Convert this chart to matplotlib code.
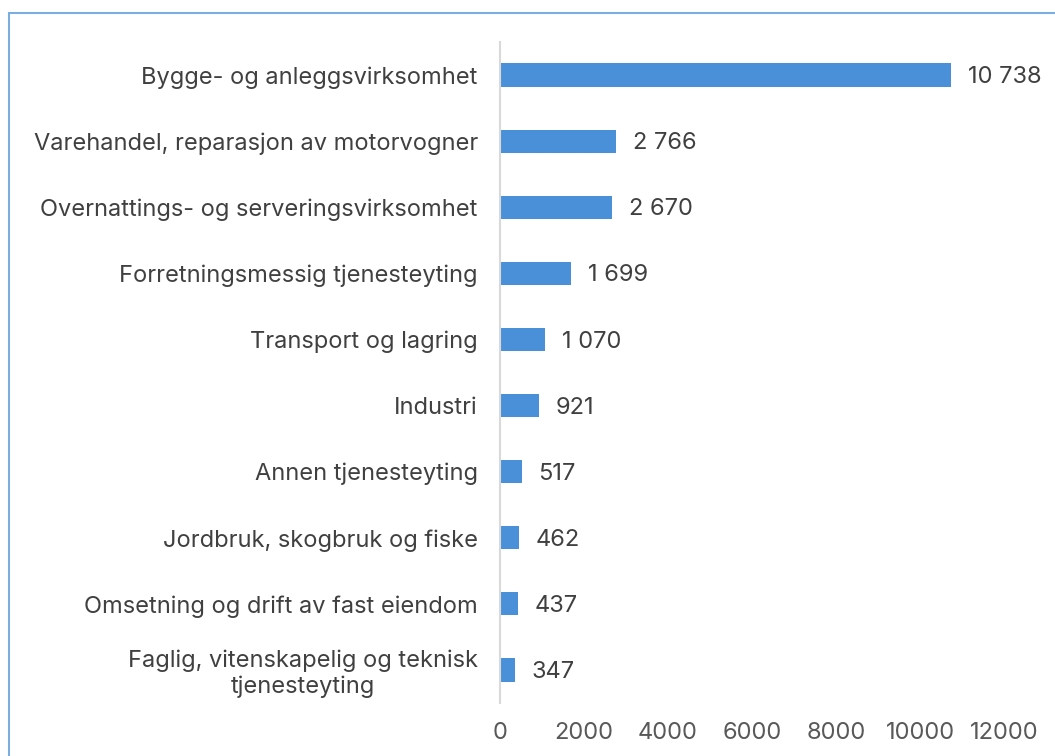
import matplotlib
matplotlib.use("Agg")
import matplotlib.pyplot as plt
from matplotlib.patches import Rectangle

categories = [
    "Bygge- og anleggsvirksomhet",
    "Varehandel, reparasjon av motorvogner",
    "Overnattings- og serveringsvirksomhet",
    "Forretningsmessig tjenesteyting",
    "Transport og lagring",
    "Industri",
    "Annen tjenesteyting",
    "Jordbruk, skogbruk og fiske",
    "Omsetning og drift av fast eiendom",
    "Faglig, vitenskapelig og teknisk\ntjenesteyting",
]
values = [10738, 2766, 2670, 1699, 1070, 921, 517, 462, 437, 347]
xticks = [0, 2000, 4000, 6000, 8000, 10000, 12000]

plt.rcParams['font.family'] = ['Inter', 'DejaVu Sans']
FS = 17

fig = plt.figure(figsize=(10.55, 7.56), dpi=100)
ax = fig.add_axes([500/1055, 1-703/756, 504/1055, (703-42)/756])

ypos = list(range(len(categories)))
ax.barh(ypos, values, height=0.35, color='#4A90D9')
ax.set_ylim(len(categories)-0.5, -0.5)
ax.set_xlim(0, 12000)
ax.set_yticks(ypos)
ax.set_yticklabels(categories, fontsize=FS, color='#404040')
for lbl in ax.get_yticklabels():
    lbl.set_multialignment('center')
ax.set_xticks(xticks)
ax.set_xticklabels([str(t) for t in xticks], fontsize=FS, color='#595959')
ax.tick_params(axis='y', length=0, pad=16)
ax.tick_params(axis='x', length=0, pad=14)
for s in ['top', 'right', 'bottom']:
    ax.spines[s].set_visible(False)
ax.spines['left'].set_color('#d9d9d9')
ax.spines['left'].set_linewidth(1.5)

for y, v in zip(ypos, values):
    txt = f"{v:,}".replace(",", " ")
    ax.annotate(txt, (v, y), xytext=(12, -1.5), textcoords='offset points',
                va='center', ha='left', fontsize=FS, color='#404040')

fig.patches.append(Rectangle((9/1055, -0.1), 1.2, 1 - 13/756 + 0.1,
                             transform=fig.transFigure, fill=False,
                             edgecolor='#7AAEE0', linewidth=1.5))

fig.savefig('out.png', dpi=100)
